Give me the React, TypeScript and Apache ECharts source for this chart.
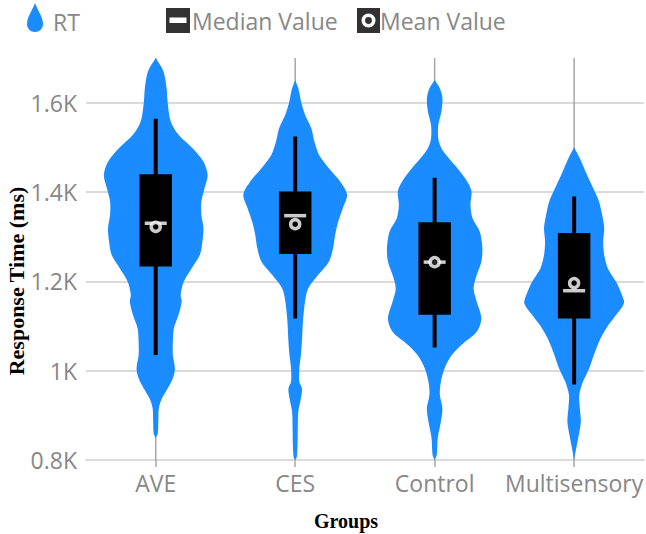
import React, { useEffect, useRef } from 'react';
import * as echarts from 'echarts';

// ---------- data ----------
const categories = ['AVE', 'CES', 'Control', 'Multisensory'];

// density profiles: [response time (ms), relative density]
const aveDensity = [
  [1700, 0], [1670, 0.15], [1632, 0.21], [1600, 0.23], [1558, 0.29], [1528, 0.44],
  [1498, 0.71], [1468, 0.92], [1438, 1.0], [1408, 0.94], [1379, 0.88], [1349, 0.88],
  [1319, 0.92], [1289, 0.9], [1259, 0.85], [1229, 0.69], [1199, 0.54], [1170, 0.48],
  [1155, 0.5], [1125, 0.44], [1095, 0.35], [1065, 0.33], [1035, 0.33], [1005, 0.37],
  [983, 0.33], [960, 0.23], [938, 0.12], [916, 0.06], [886, 0.05], [860, 0.04], [849, 0],
];
const cesDensity = [
  [1651, 0], [1632, 0.06], [1599, 0.12], [1573, 0.19], [1543, 0.31], [1513, 0.37],
  [1483, 0.46], [1453, 0.65], [1423, 0.87], [1394, 1.0], [1364, 0.92], [1334, 0.83],
  [1304, 0.77], [1274, 0.73], [1244, 0.65], [1214, 0.44], [1184, 0.25], [1155, 0.19],
  [1110, 0.15], [1065, 0.13], [1035, 0.11], [1005, 0.08], [975, 0.08], [960, 0.13],
  [938, 0.11], [908, 0.06], [871, 0.05], [834, 0.045], [806, 0.03], [800, 0],
];
const controlDensity = [
  [1651, 0], [1632, 0.1], [1610, 0.15], [1580, 0.13], [1550, 0.07], [1520, 0.07],
  [1498, 0.13], [1476, 0.27], [1453, 0.44], [1423, 0.63], [1401, 0.71], [1371, 0.69],
  [1341, 0.73], [1311, 0.87], [1274, 0.92], [1244, 0.9], [1214, 0.81], [1184, 0.75],
  [1155, 0.81], [1117, 0.9], [1087, 0.81], [1058, 0.52], [1035, 0.33], [1005, 0.19],
  [975, 0.12], [946, 0.1], [916, 0.15], [886, 0.12], [849, 0.06], [811, 0.04], [800, 0],
];
const multisensoryDensity = [
  [1500, 0], [1468, 0.14], [1438, 0.25], [1408, 0.37], [1379, 0.48], [1349, 0.54],
  [1319, 0.58], [1289, 0.56], [1259, 0.58], [1229, 0.65], [1199, 0.81], [1170, 0.92],
  [1151, 0.96], [1125, 0.81], [1095, 0.62], [1065, 0.48], [1035, 0.38], [1005, 0.29],
  [975, 0.17], [946, 0.1], [916, 0.11], [886, 0.13], [856, 0.09], [826, 0.04], [800, 0],
];
const densities = [aveDensity, cesDensity, controlDensity, multisensoryDensity];

const whiskerLow = [1035, 1117, 1052, 969];
const q1 = [1233, 1261, 1125, 1117];
const q3 = [1440, 1401, 1332, 1308];
const whiskerHigh = [1564, 1524, 1432, 1390];
const medianValues = [1330, 1347, 1243, 1179];
const meanValues = [1322, 1328, 1243, 1196];

const Y_MIN = 800;
const Y_MAX = 1700;
const Y_INTERVAL = 200;

// ---------- styles ----------
const VIOLIN_COLOR = '#1a8cff';
const VIOLIN_HALF = 0.372; // fraction of band width for density 1
const BOX_FRAC = 0.233;
const GRID_COLOR = '#dadada';
const LABEL_COLOR = '#878787';
const FONT = "'Open Sans', 'Noto Sans', sans-serif";
const FONT_SIZE = 23;

const svgUri = (svg: string) => 'image://data:image/svg+xml;charset=utf-8,' + encodeURIComponent(svg);
const dropIcon = svgUri(
  `<svg xmlns="http://www.w3.org/2000/svg" width="16" height="37" viewBox="0 0 16 37"><path d="M8 0 C10 6 16 14 16 21 C16 25.5 12.4 29 8 29 C3.6 29 0 25.5 0 21 C0 14 6 6 8 0 Z" fill="${VIOLIN_COLOR}"/></svg>`
);
const medianIcon = svgUri(
  `<svg xmlns="http://www.w3.org/2000/svg" width="24" height="25" viewBox="0 0 24 25"><rect x="0" y="0" width="24" height="25" fill="#000"/><rect x="3.5" y="9.5" width="17" height="5.5" fill="#fff"/></svg>`
);
const meanIcon = svgUri(
  `<svg xmlns="http://www.w3.org/2000/svg" width="23" height="25" viewBox="0 0 23 25"><rect x="0" y="0" width="23" height="25" fill="#000"/><circle cx="11.5" cy="12.5" r="5.2" fill="none" stroke="#fff" stroke-width="3.6"/></svg>`
);

export default function App() {
  const ref = useRef<HTMLDivElement>(null);
  useEffect(() => {
    document.body.style.margin = '0';
    const chart = echarts.init(ref.current as HTMLDivElement, null, { renderer: 'svg' });

    const legendText = { color: LABEL_COLOR, fontSize: FONT_SIZE, fontFamily: FONT };

    const option: any = {
      animation: false,
      backgroundColor: '#ffffff',
      grid: { left: 86, right: 0, top: 58, bottom: 74, containLabel: false },
      legend: [
        {
          data: [{ name: 'RT', icon: dropIcon }],
          left: 27, top: 3, padding: 0, itemWidth: 16, itemHeight: 37,
          selectedMode: false, textStyle: { ...legendText, padding: [0, 0, 0, 5] },
        },
        {
          data: [{ name: 'Median Value', icon: medianIcon }],
          left: 166, top: 8, padding: 0, itemWidth: 24, itemHeight: 25,
          selectedMode: false, textStyle: { ...legendText, padding: [0, 0, 0, -3] },
        },
        {
          data: [{ name: 'Mean Value', icon: meanIcon }],
          left: 357, top: 8, padding: 0, itemWidth: 23, itemHeight: 25,
          selectedMode: false, textStyle: { ...legendText, padding: [0, 0, 0, -5] },
        },
      ],
      xAxis: {
        type: 'category',
        data: categories,
        boundaryGap: true,
        axisLine: { show: true, lineStyle: { color: GRID_COLOR, width: 2 } },
        axisTick: { show: true, alignWithLabel: true, length: 7, lineStyle: { color: '#a6a6a6', width: 1.5 } },
        axisLabel: { color: LABEL_COLOR, fontSize: FONT_SIZE, fontFamily: FONT, margin: 11, interval: 0, hideOverlap: false },
        splitLine: { show: false },
      },
      yAxis: {
        type: 'value',
        min: Y_MIN,
        max: Y_MAX,
        interval: Y_INTERVAL,
        axisLine: { show: false },
        axisTick: { show: false },
        axisLabel: {
          color: LABEL_COLOR, fontSize: FONT_SIZE, fontFamily: FONT, margin: 9,
          showMaxLabel: false,
          formatter: (v: number) => (v === Y_MAX ? '' : v / 1000 + 'K'),
        },
        splitLine: {
          show: true,
          showMaxLine: false,
          lineStyle: { color: [GRID_COLOR, GRID_COLOR, GRID_COLOR, GRID_COLOR, GRID_COLOR, 'rgba(0,0,0,0)'], width: 2 },
        },
      },
      graphic: [
        {
          type: 'text', x: 16, y: 281, rotation: Math.PI / 2,
          style: {
            text: 'Response Time (ms)', fill: '#000', align: 'center', verticalAlign: 'middle',
            font: "bold 22px 'Liberation Serif', 'Times New Roman', serif",
          },
        },
        {
          type: 'text', x: 346, y: 521,
          style: {
            text: 'Groups', fill: '#000', align: 'center', verticalAlign: 'middle',
            font: "bold 20px 'Liberation Serif', 'Times New Roman', serif",
          },
        },
      ],
      series: [
        {
          name: 'RT',
          type: 'custom',
          z: 2,
          data: categories.map((_, i) => [i]),
          encode: { x: 0 },
          renderItem: (params: any, api: any) => {
            const idx = api.value(0);
            const prof = densities[idx];
            const band = api.size([1, 0])[0];
            const cx = api.coord([idx, Y_MIN])[0];
            const left: number[][] = [];
            const right: number[][] = [];
            for (const p of prof) {
              const y = api.coord([idx, p[0]])[1];
              const hw = p[1] * band * VIOLIN_HALF;
              left.push([cx - hw, y]);
              right.push([cx + hw, y]);
            }
            const pts = left.concat(right.reverse());
            const top = api.coord([idx, Y_MAX])[1];
            const bot = api.coord([idx, Y_MIN])[1];
            return {
              type: 'group',
              children: [
                { type: 'line', shape: { x1: cx, y1: top, x2: cx, y2: bot }, style: { stroke: '#a6a6a6', lineWidth: 1.5 } },
                { type: 'polygon', shape: { points: pts, smooth: 0.3 }, style: { fill: VIOLIN_COLOR } },
              ],
            };
          },
        },
        {
          name: 'box',
          type: 'custom',
          z: 3,
          data: categories.map((_, i) => [i, whiskerLow[i], q1[i], q3[i], whiskerHigh[i]]),
          encode: { x: 0, y: [1, 2, 3, 4] },
          renderItem: (params: any, api: any) => {
            const idx = api.value(0);
            const band = api.size([1, 0])[0];
            const bw = band * BOX_FRAC;
            const pLow = api.coord([idx, api.value(1)]);
            const pQ1 = api.coord([idx, api.value(2)]);
            const pQ3 = api.coord([idx, api.value(3)]);
            const pHigh = api.coord([idx, api.value(4)]);
            const cx = pLow[0];
            return {
              type: 'group',
              children: [
                { type: 'line', shape: { x1: cx, y1: pHigh[1], x2: cx, y2: pLow[1] }, style: { stroke: '#000', lineWidth: 4 } },
                { type: 'rect', shape: { x: cx - bw / 2, y: pQ3[1], width: bw, height: pQ1[1] - pQ3[1] }, style: { fill: '#000' } },
              ],
            };
          },
        },
        {
          name: 'Median Value',
          type: 'scatter',
          z: 4,
          symbol: 'rect',
          symbolSize: [22, 3.5],
          itemStyle: { color: '#fff' },
          data: categories.map((_, i) => [i, medianValues[i]]),
        },
        {
          name: 'Mean Value',
          type: 'scatter',
          z: 5,
          symbol: 'circle',
          symbolSize: 9,
          itemStyle: { color: '#000', borderColor: '#fff', borderWidth: 3.5 },
          data: categories.map((_, i) => [i, meanValues[i]]),
        },
      ],
    };
    chart.setOption(option);
    return () => chart.dispose();
  }, []);
  return <div ref={ref} style={{ width: 646, height: 534 }} />;
}
